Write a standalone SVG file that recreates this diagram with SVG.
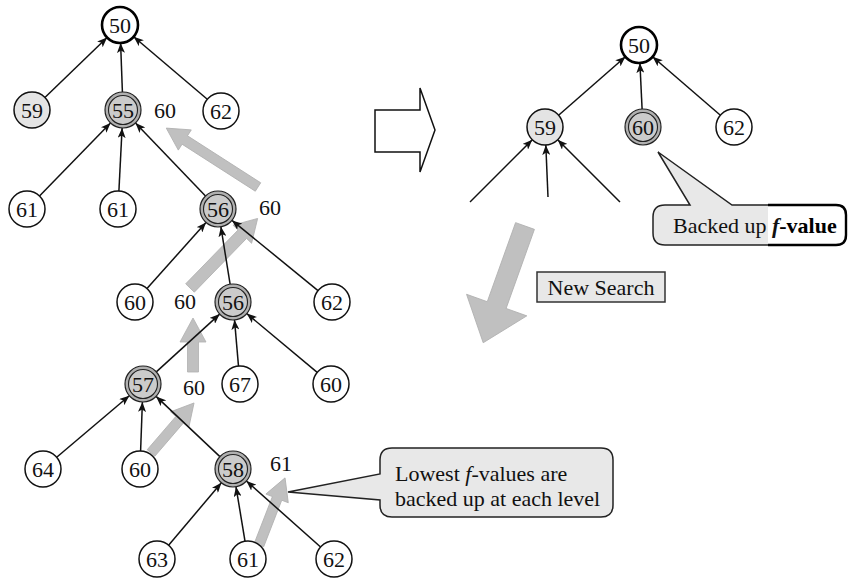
<svg xmlns="http://www.w3.org/2000/svg" width="848" height="580" viewBox="0 0 848 580">
<style>
text{font-family:"Liberation Serif","Times New Roman",serif;font-size:22px;fill:#111}
.nl{text-anchor:middle}
.n{fill:#fff;stroke:#111;stroke-width:1.5}
.root{fill:#fff;stroke:#000;stroke-width:2.6}
.lt{fill:#e4e4e4;stroke:#111;stroke-width:1.5}
.d1{fill:#b0b0b0;stroke:#222;stroke-width:1.2}
.d2{fill:#cbcbcb;stroke:#222;stroke-width:1.1}
.e{stroke:#111;stroke-width:1.5;fill:none}
.ga{fill:#c0c0c0;stroke:#b0b0b0;stroke-width:0.8}
.cl{fill:#e8e8e8;stroke:#222;stroke-width:1.5}
</style>
<defs>
<marker id="ah" viewBox="0 0 10 8" refX="10" refY="4" markerWidth="10" markerHeight="8" markerUnits="userSpaceOnUse" orient="auto">
<path d="M0,0 L10,4 L0,8 L2.5,4 z" fill="#111"/>
</marker>
</defs>

<!-- gray backed-up arrows (behind) -->
<g id="backup-arrows">
<polygon class="ga" transform="translate(258,187) rotate(-147.3)" points="0,-5 87,-5 87,-12 109,0 87,12 87,5 0,5"/>
<polygon class="ga" transform="translate(190,288) rotate(-45.8)" points="0,-6 75,-6 75,-13 97,0 75,13 75,6 0,6"/>
<polygon class="ga" transform="translate(193,372) rotate(-90)" points="0,-5.5 30,-5.5 30,-13 54,0 30,13 30,5.5 0,5.5"/>
<polygon class="ga" transform="translate(151,453) rotate(-49.3)" points="0,-5 44,-5 44,-12 66,0 44,12 44,5 0,5"/>
<polygon class="ga" transform="translate(259,545) rotate(-68.8)" points="0,-5 50,-5 50,-12 72,0 50,12 50,5 0,5"/>
</g>

<g id="connectors" marker-end="url(#ah)">
<line class="e" x1="44.9" y1="97.5" x2="107.1" y2="37.5"/>
<line class="e" x1="122.4" y1="92" x2="120.6" y2="43"/>
<line class="e" x1="207.3" y1="99.3" x2="133.7" y2="36.7"/>
<line class="e" x1="39.5" y1="196.1" x2="110.5" y2="122.9"/>
<line class="e" x1="118.9" y1="191" x2="122.1" y2="128"/>
<line class="e" x1="205.5" y1="196" x2="135.5" y2="123"/>
<line class="e" x1="147" y1="288.6" x2="206" y2="222.4"/>
<line class="e" x1="230.1" y1="284.2" x2="220.9" y2="226.8"/>
<line class="e" x1="318" y1="290.6" x2="232" y2="220.4"/>
<line class="e" x1="156.3" y1="371.9" x2="219.7" y2="314.1"/>
<line class="e" x1="238.5" y1="366.1" x2="234.5" y2="319.9"/>
<line class="e" x1="317.2" y1="372.4" x2="246.8" y2="313.6"/>
<line class="e" x1="56.7" y1="457.3" x2="129.3" y2="395.7"/>
<line class="e" x1="140.6" y1="451" x2="142.4" y2="402"/>
<line class="e" x1="219.9" y1="456.6" x2="156.1" y2="396.4"/>
<line class="e" x1="168.6" y1="545.2" x2="221.4" y2="482.8"/>
<line class="e" x1="245" y1="541.2" x2="236" y2="486.8"/>
<line class="e" x1="320.6" y1="547" x2="246.4" y2="481"/>
<line class="e" x1="558.6" y1="115.2" x2="625.4" y2="56.8"/>
<line class="e" x1="642.1" y1="109" x2="639.9" y2="63"/>
<line class="e" x1="720.4" y1="115.2" x2="652.6" y2="56.8"/>
<line class="e" x1="470" y1="202" x2="532.3" y2="139.7"/>
<line class="e" x1="548" y1="197" x2="545.8" y2="145"/>
<line class="e" x1="620" y1="202" x2="557.7" y2="139.7"/>
</g>

<!-- left tree nodes -->
<g id="L50"><circle class="root" cx="120" cy="25" r="18"/><text class="nl" x="120" y="32.5">50</text></g>
<g id="L59"><circle class="lt" cx="32" cy="110" r="18"/><text class="nl" x="32" y="117.5">59</text></g>
<g id="L55"><circle class="d1" cx="123" cy="110" r="18"/><circle class="d2" cx="123" cy="110" r="14.5"/><text class="nl" x="123" y="117.5">55</text></g>
<g id="L62a"><circle class="n" cx="221" cy="111" r="18"/><text class="nl" x="221" y="118.5">62</text></g>
<g id="L61a"><circle class="n" cx="27" cy="209" r="18"/><text class="nl" x="27" y="216.5">61</text></g>
<g id="L61b"><circle class="n" cx="118" cy="209" r="18"/><text class="nl" x="118" y="216.5">61</text></g>
<g id="L56a"><circle class="d1" cx="218" cy="209" r="18"/><circle class="d2" cx="218" cy="209" r="14.5"/><text class="nl" x="218" y="216.5">56</text></g>
<g id="L60a"><circle class="n" cx="135" cy="302" r="18"/><text class="nl" x="135" y="309.5">60</text></g>
<g id="L56b"><circle class="d1" cx="233" cy="302" r="18"/><circle class="d2" cx="233" cy="302" r="14.5"/><text class="nl" x="233" y="309.5">56</text></g>
<g id="L62b"><circle class="n" cx="332" cy="302" r="18"/><text class="nl" x="332" y="309.5">62</text></g>
<g id="L57"><circle class="d1" cx="143" cy="384" r="18"/><circle class="d2" cx="143" cy="384" r="14.5"/><text class="nl" x="143" y="391.5">57</text></g>
<g id="L67"><circle class="n" cx="240" cy="384" r="18"/><text class="nl" x="240" y="391.5">67</text></g>
<g id="L60b"><circle class="n" cx="331" cy="384" r="18"/><text class="nl" x="331" y="391.5">60</text></g>
<g id="L64"><circle class="n" cx="43" cy="469" r="18"/><text class="nl" x="43" y="476.5">64</text></g>
<g id="L60c"><circle class="n" cx="140" cy="469" r="18"/><text class="nl" x="140" y="476.5">60</text></g>
<g id="L58"><circle class="d1" cx="233" cy="469" r="18"/><circle class="d2" cx="233" cy="469" r="14.5"/><text class="nl" x="233" y="476.5">58</text></g>
<g id="L63"><circle class="n" cx="157" cy="559" r="18"/><text class="nl" x="157" y="566.5">63</text></g>
<g id="L61c"><circle class="n" cx="248" cy="559" r="18"/><text class="nl" x="248" y="566.5">61</text></g>
<g id="L62c"><circle class="n" cx="334" cy="559" r="18"/><text class="nl" x="334" y="566.5">62</text></g>

<!-- backed up values -->
<g id="values">
<text class="nl" x="165" y="118">60</text>
<text class="nl" x="270" y="215">60</text>
<text class="nl" x="185" y="309">60</text>
<text class="nl" x="194" y="395">60</text>
<text class="nl" x="281" y="471">61</text>
</g>

<!-- hollow arrow -->
<g id="transition-arrow">
<polygon points="375,110 420,110 420,88 435,130 420,172 420,152 375,152" fill="#fff" stroke="#111" stroke-width="1.5"/>
</g>

<!-- right tree -->
<g id="R50"><circle class="root" cx="639" cy="45" r="18"/><text class="nl" x="639" y="52.5">50</text></g>
<g id="R59"><circle class="lt" cx="545" cy="127" r="18"/><text class="nl" x="545" y="134.5">59</text></g>
<g id="R60"><circle class="d1" cx="643" cy="127" r="18"/><circle class="d2" cx="643" cy="127" r="14.5"/><text class="nl" x="643" y="134.5">60</text></g>
<g id="R62"><circle class="n" cx="734" cy="127" r="18"/><text class="nl" x="734" y="134.5">62</text></g>

<!-- Backed up callout -->
<g id="callout-backed">
<path class="cl" d="M665,205 H690 L658,152 L732,205 H836 Q846,205 846,215 V235 Q846,245 836,245 H665 Q653,245 653,233 V217 Q653,205 665,205 Z"/>
<rect x="768" y="206" width="77" height="38" fill="#fff"/>
<path d="M768,205 H836 Q846,205 846,215 V235 Q846,245 836,245 H768" fill="none" stroke="#000" stroke-width="2.4"/>
<text x="673" y="233">Backed up <tspan font-weight="bold" font-style="italic">f</tspan><tspan font-weight="bold" fill="#000">-value</tspan></text>
</g>

<!-- New search arrow -->
<g id="new-search">
<polygon class="ga" transform="translate(525,226) rotate(109.7)" points="0,-10 84,-10 84,-32 124,0 84,32 84,10 0,10"/>
<rect x="537" y="272" width="128" height="30" fill="#e8e8e8" stroke="#333" stroke-width="1.5"/>
<text class="nl" x="601" y="295">New Search</text>
</g>

<!-- Lowest callout -->
<g id="callout-lowest">
<path class="cl" d="M392,448 H601 Q613,448 613,460 V505 Q613,517 601,517 H392 Q380,517 380,505 V500 L288,492 L380,474 V460 Q380,448 392,448 Z"/>
<text x="395" y="481">Lowest <tspan font-style="italic">f</tspan>-values are</text>
<text x="395" y="506">backed up at each level</text>
</g>
</svg>
